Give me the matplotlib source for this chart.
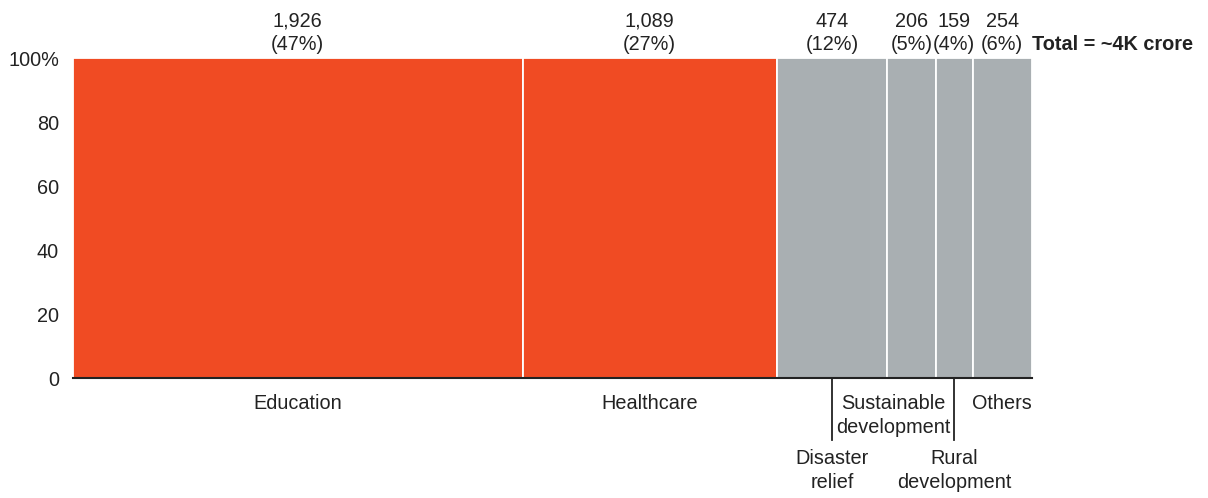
import matplotlib
matplotlib.use("Agg")
import matplotlib.pyplot as plt

categories = ["Education", "Healthcare", "Disaster\nrelief", "Sustainable\ndevelopment", "Rural\ndevelopment", "Others"]
values = [1926, 1089, 474, 206, 159, 254]
pct_labels = ["47%", "27%", "12%", "5%", "4%", "6%"]
colors = ["#F04B23", "#F04B23", "#A9AFB2", "#A9AFB2", "#A9AFB2", "#A9AFB2"]
# label placement: 0 = directly below, 1 = first row shifted, 2 = second row with leader
label_rows = [0, 0, 2, 1, 2, 0]
yticks = [0, 20, 40, 60, 80, 100]
ytick_labels = ["0", "20", "40", "60", "80", "100%"]

plt.rcParams['font.family'] = ['Liberation Sans', 'DejaVu Sans']
FS = 14.3
TC = "#222222"
LS = 1.3

W, H = 1208, 498
fig = plt.figure(figsize=(W / 100, H / 100), dpi=100)
ax = fig.add_axes([73 / W, 1 - 378 / H, (1032 - 73) / W, (378 - 58) / H])

total = sum(values)
lefts = []
acc = 0
for v in values:
    lefts.append(acc)
    acc += v

ax.bar(lefts, [100] * len(values), width=values, align="edge", color=colors,
       edgecolor="white", linewidth=1.3)

ax.set_xlim(0, total)
ax.set_ylim(0, 100)
ax.set_yticks(yticks)
ax.set_yticklabels(ytick_labels, fontsize=FS, color=TC)
ax.tick_params(axis="y", length=0, pad=10)
ax.set_xticks([])
for s in ["top", "right", "left"]:
    ax.spines[s].set_visible(False)
ax.spines["bottom"].set_linewidth(1.5)
ax.spines["bottom"].set_color(TC)

trans = ax.get_xaxis_transform()
for i, (left, v, cat, pct, row) in enumerate(zip(lefts, values, categories, pct_labels, label_rows)):
    cx = left + v / 2
    ax.text(cx, 1.012, f"{v:,}\n({pct})", transform=trans, ha="center", va="bottom",
            fontsize=FS, color=TC, linespacing=LS, clip_on=False)
    if row == 0:
        ax.text(cx, -0.05, cat, transform=trans, ha="center", va="top",
                fontsize=FS, color=TC, clip_on=False, linespacing=LS)
    elif row == 1:
        # centred between the two neighbouring leader lines
        lx = lefts[i - 1] + values[i - 1] / 2
        rx = lefts[i + 1] + values[i + 1] / 2
        ax.text((lx + rx) / 2, -0.05, cat, transform=trans, ha="center", va="top",
                fontsize=FS, color=TC, clip_on=False, linespacing=LS)
    else:
        ax.plot([cx, cx], [0, -0.195], transform=trans, color=TC,
                linewidth=1.3, clip_on=False)
        ax.text(cx, -0.222, cat, transform=trans, ha="center", va="top",
                fontsize=FS, color=TC, clip_on=False, linespacing=LS)

ax.text(1.0, 1.012, "Total = ~4K crore", transform=ax.transAxes, ha="left",
        va="bottom", fontsize=FS, fontweight="bold", color=TC, clip_on=False)

fig.savefig("out.png", dpi=100)
